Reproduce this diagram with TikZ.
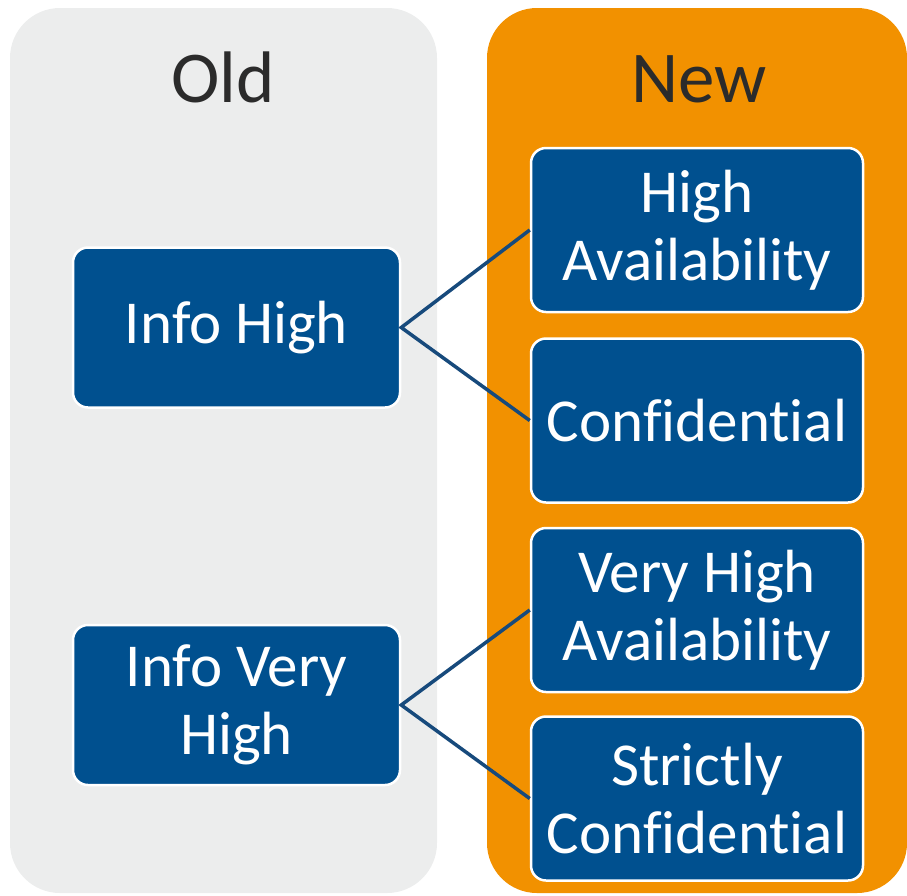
\documentclass[tikz,border=0pt]{standalone}
\usepackage{fontspec}
\setmainfont[Ligatures=NoCommon]{Carlito}
\definecolor{panelgray}{HTML}{ECEDED}
\definecolor{panelorange}{HTML}{F29100}
\definecolor{boxblue}{HTML}{00508F}
\definecolor{linkblue}{HTML}{174A7C}
\definecolor{titlegray}{HTML}{2B2B2B}
\begin{document}
\begin{tikzpicture}[x=1pt,y=-1pt,
  panel/.style={rounded corners=50pt},
  bluebox/.style={draw=white, line width=2.5pt, fill=boxblue, rounded corners=15pt,
    text=white, align=center, inner sep=0pt,
    font=\fontsize{61}{68}\selectfont},
  leftbox/.style={bluebox, minimum width=327pt, minimum height=160pt},
  rightbox/.style={bluebox, minimum width=332pt, minimum height=164pt},
  title/.style={text=titlegray, anchor=base, font=\fontsize{73}{80}\selectfont},
  link/.style={draw=linkblue, line width=3.5pt}]
\useasboundingbox (0,0) rectangle (907,895);
\fill[panelgray, panel] (10,8) rectangle (437,893);
\fill[panelorange, panel] (487,8) rectangle (907,893);
\node[title] (old) at (223,102) {Old};
\node[title] (new) at (699,102) {New};
\node[leftbox] (ih) at (236.5,327.5) {Info High};
\node[leftbox] (ivh) at (236.5,705) {Info Very\\High};
\node[rightbox] (ha) at (697,230) {High\\Availability};
\node[rightbox] (co) at (697,420.5) {Confidential};
\node[rightbox] (vha) at (697,610) {Very High\\Availability};
\node[rightbox] (sc) at (697,798.5) {Strictly\\Confidential};
\draw[link] (ha.west) -- (ih.east) -- (co.west);
\draw[link] (vha.west) -- (ivh.east) -- (sc.west);
\end{tikzpicture}
\end{document}
